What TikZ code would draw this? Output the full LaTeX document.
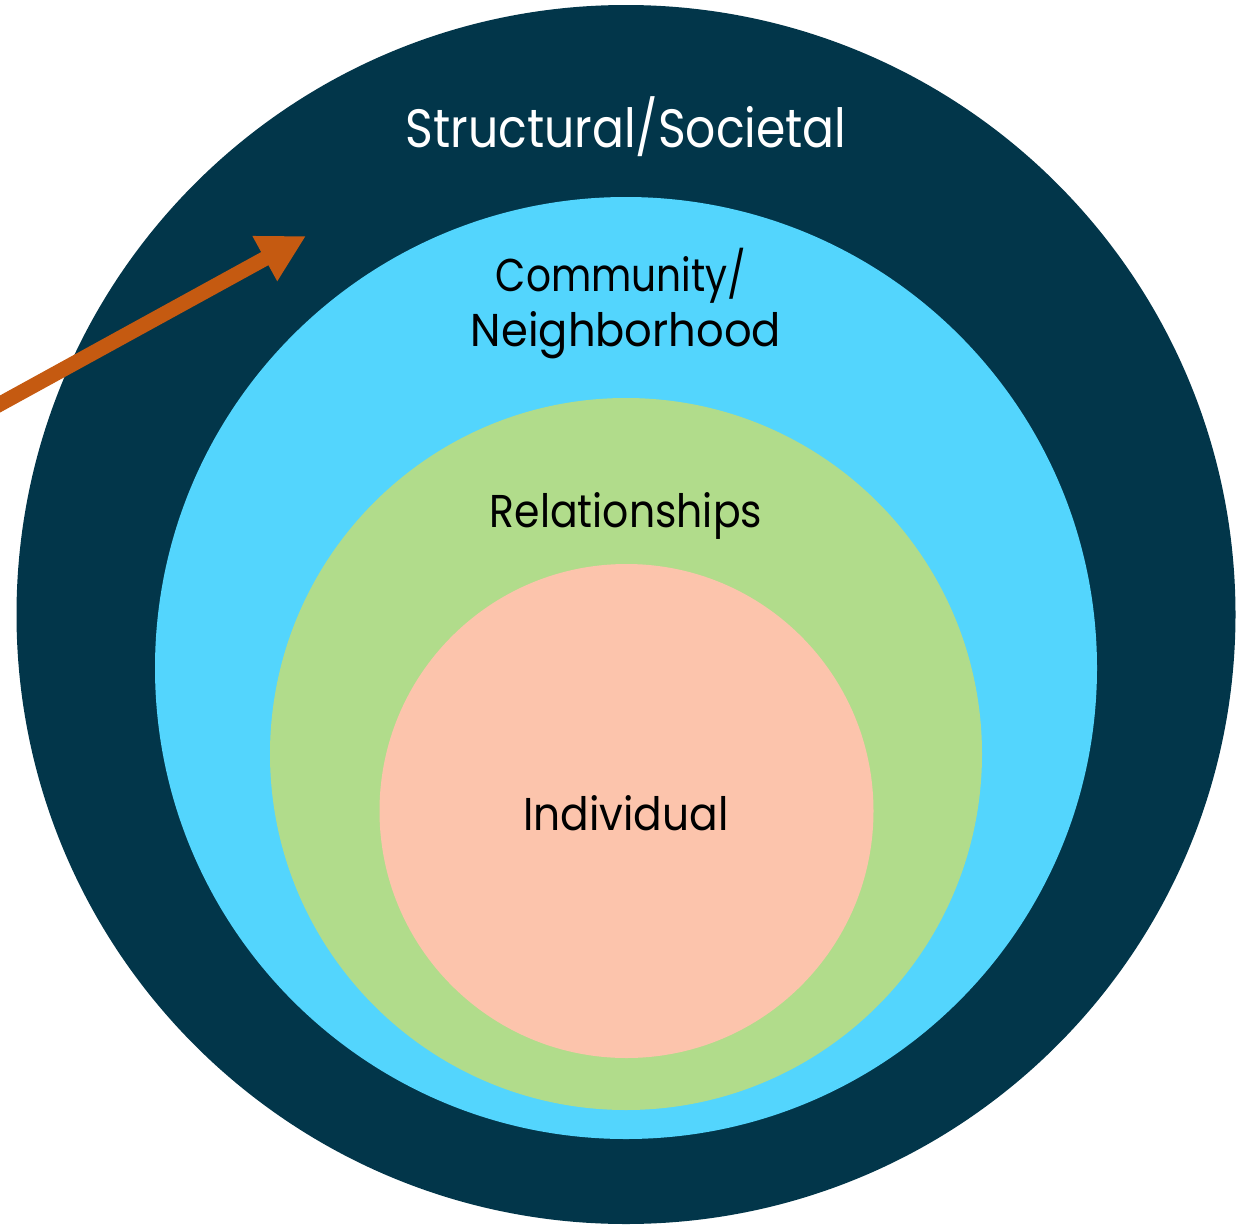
\documentclass[tikz,border=0pt]{standalone}
\usepackage{fontspec}
\setmainfont{Poppins}
\usetikzlibrary{arrows.meta}
\definecolor{darkring}{HTML}{02364A}
\definecolor{bluering}{HTML}{53D5FD}
\definecolor{greenring}{HTML}{B1DC8B}
\definecolor{salmonring}{HTML}{FCC4AC}
\definecolor{arrowc}{HTML}{C55A11}
\tikzset{
  lbl/.style={inner sep=0pt, align=center, font=\fontsize{46}{58}\selectfont, text=black},
  toplbl/.style={lbl, font=\fontsize{54}{64}\selectfont, text=white},
}
\newcommand{\narrow}[2]{\scalebox{#1}[1]{#2}}
\begin{document}
\begin{tikzpicture}[x=1pt,y=-1pt]
\useasboundingbox (0,0) rectangle (1251,1226);
\begin{scope}
\clip (0,0) rectangle (1251,1226);
\fill[darkring] (626,614.5) circle (609.5);
\fill[bluering] (626,668) circle (471);
\fill[greenring] (626,754) circle (356);
\fill[salmonring] (626.5,811) circle (247);
\coordinate (arrowstart) at (-20,415);
\coordinate (arrowtip) at (306,236);
\draw[arrowc, line width=15pt, -{Triangle[length=47pt,width=48pt]}] (arrowstart) -- (arrowtip);
\end{scope}
\node[toplbl] (structural) at (626,127) {\narrow{0.875}{Structural/Societal}};
\node[lbl] (community) at (621,276) {\narrow{0.85}{Community/}};
\node[lbl] (neighborhood) at (626,335) {\narrow{0.94}{Neighborhood}};
\node[lbl] (relationships) at (626,516) {\narrow{0.89}{Relationships}};
\node[lbl] (individual) at (626,813) {\narrow{0.92}{Individual}};
\end{tikzpicture}
\end{document}
